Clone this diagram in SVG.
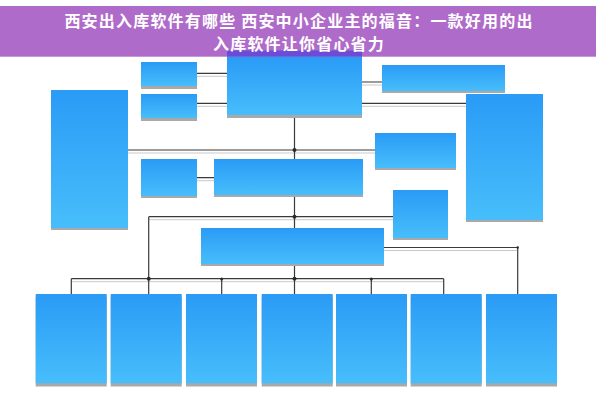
<svg xmlns="http://www.w3.org/2000/svg" width="596" height="417" viewBox="0 0 596 417">
  <defs>
    <linearGradient id="blue" x1="0" y1="0" x2="0" y2="1">
      <stop offset="0" stop-color="#2A9BF6"/>
      <stop offset="1" stop-color="#47BEFB"/>
    </linearGradient>
    <style>
      .box { fill: url(#blue); }
      .sh { fill: #A9A9A9; }
      .ln { fill: none; stroke: #3A3A3A; stroke-width: 1.2; }
      .lns { fill: none; stroke: #C9C9C9; stroke-width: 1; }
      .dot { fill: #2A2A2A; }
      .title { font-family: "Noto Sans CJK SC", "Noto Sans", sans-serif; font-size: 16px; letter-spacing: 1.2px; font-weight: bold; fill: #FFFFFF; text-anchor: middle; }
    </style>
  </defs>
  <rect x="0" y="0" width="596" height="417" fill="#FFFFFF"/>

  <g id="connectors">
    <g transform="translate(0,3)">
      <path class="lns" d="M197 73.3H227M197 103.3H227M362 82H382M362 103.3H466M128 150H375M197 177.7H214M148.7 216.7H393M384 247.5H517.7M71.3 278.7H443.7"/>
    </g>
    <path class="ln" d="M197 73.3H227M197 103.3H227M362 82H382M362 103.3H466M128 150H375M197 177.7H214"/>
    <path class="ln" d="M294.5 115V294"/>
    <path class="ln" d="M148.7 216.7H393M148.7 216.7V294"/>
    <path class="ln" d="M384 247.5H517.7V294"/>
    <path class="ln" d="M71.3 278.7H443.7M71.3 278.7V294M221.7 278.7V294M371.3 278.7V294M443.7 278.7V294"/>
    <circle class="dot" cx="294.5" cy="150" r="2"/>
    <circle class="dot" cx="294.5" cy="216.7" r="2"/>
    <circle class="dot" cx="148.7" cy="278.7" r="2"/>
    <circle class="dot" cx="294.5" cy="278.7" r="2"/>
    <circle class="dot" cx="221.7" cy="279" r="1.5"/>
    <circle class="dot" cx="371.3" cy="279" r="1.5"/>
    <circle class="dot" cx="517.7" cy="247.5" r="1.2"/>
  </g>

  <rect id="banner" x="0" y="6" width="596" height="50.7" fill="#AF6BC9"/>

  <g id="node-a"><rect class="sh" x="141" y="65" width="56" height="24"/><rect class="box" x="141" y="62" width="56" height="24"/></g>
  <g id="node-b"><rect class="sh" x="141" y="97" width="56" height="24"/><rect class="box" x="141" y="94" width="56" height="24"/></g>
  <g id="node-c"><rect class="sh" x="227" y="60" width="135" height="58"/><rect class="box" x="227" y="56.7" width="135" height="58.3"/><rect x="227" y="50.5" width="135" height="6.2" fill="#6C4CD6"/></g>
  <g id="node-d"><rect class="sh" x="382" y="68" width="123" height="25"/><rect class="box" x="382" y="65" width="123" height="26"/></g>
  <g id="node-e"><rect class="sh" x="466" y="97" width="77" height="125"/><rect class="box" x="466" y="94" width="77" height="126"/></g>
  <g id="node-f"><rect class="sh" x="51" y="93" width="77" height="137"/><rect class="box" x="51" y="90" width="77" height="138"/></g>
  <g id="node-g"><rect class="sh" x="141" y="162" width="56" height="36"/><rect class="box" x="141" y="159" width="56" height="37"/></g>
  <g id="node-h"><rect class="sh" x="214" y="162" width="149" height="35"/><rect class="box" x="214" y="159" width="149" height="36"/></g>
  <g id="node-k"><rect class="sh" x="375" y="136" width="81" height="34"/><rect class="box" x="375" y="133" width="81" height="35"/></g>
  <g id="node-j"><rect class="sh" x="393" y="193" width="55" height="47"/><rect class="box" x="393" y="190" width="55" height="48"/></g>
  <g id="node-i"><rect class="sh" x="201" y="231" width="183" height="35"/><rect class="box" x="201" y="228" width="183" height="36"/></g>

  <g id="node-b1"><rect class="sh" x="35.7" y="297" width="71" height="89.5"/><rect class="box" x="35.7" y="294" width="71" height="89.3"/></g>
  <g id="node-b2"><rect class="sh" x="110.7" y="297" width="71" height="89.5"/><rect class="box" x="110.7" y="294" width="71" height="89.3"/></g>
  <g id="node-b3"><rect class="sh" x="186" y="297" width="71" height="89.5"/><rect class="box" x="186" y="294" width="71" height="89.3"/></g>
  <g id="node-b4"><rect class="sh" x="261.7" y="297" width="71" height="89.5"/><rect class="box" x="261.7" y="294" width="71" height="89.3"/></g>
  <g id="node-b5"><rect class="sh" x="336" y="297" width="71" height="89.5"/><rect class="box" x="336" y="294" width="71" height="89.3"/></g>
  <g id="node-b6"><rect class="sh" x="410.7" y="297" width="71" height="89.5"/><rect class="box" x="410.7" y="294" width="71" height="89.3"/></g>
  <g id="node-b7"><rect class="sh" x="486" y="297" width="71" height="89.5"/><rect class="box" x="486" y="294" width="71" height="89.3"/></g>

  <g id="title">
    <text class="title" x="299" y="26.6">西安出入库软件有哪些 西安中小企业主的福音：一款好用的出<tspan x="299" dy="23.4">入库软件让你省心省力</tspan></text>
  </g>
</svg>
